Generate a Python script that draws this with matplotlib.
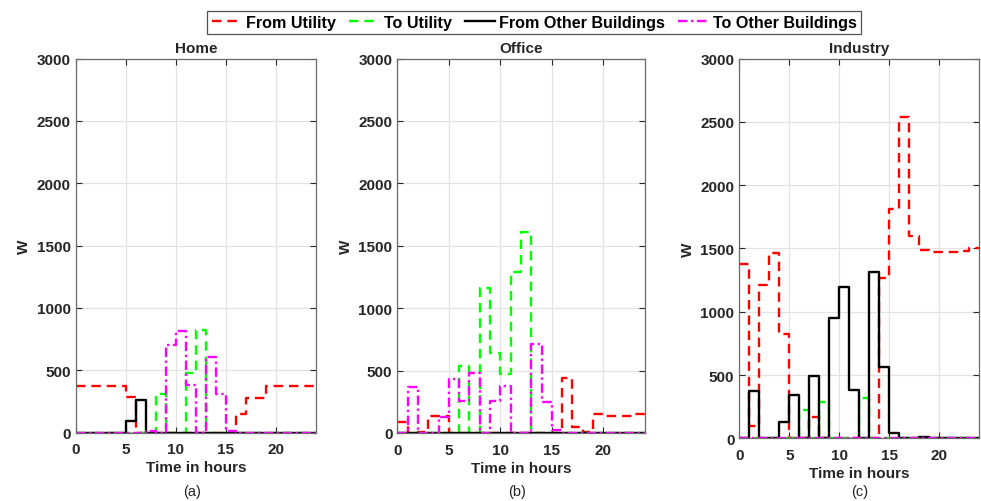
import numpy as np
import matplotlib.pyplot as plt
from matplotlib.lines import Line2D

plt.rcParams['font.family'] = ['Liberation Sans', 'DejaVu Sans']
plt.rcParams['font.size'] = 10

hours = np.arange(25)

############################# DATA (W per hour) #############################
home_from_util = [375, 375, 375, 375, 375, 285, 0, 0, 0, 0, 0, 0,
                  0, 0, 0, 0, 150, 280, 280, 375, 375, 375, 375, 375]
home_to_util = [0, 0, 0, 0, 0, 0, 0, 0, 310, 0, 0, 480,
                820, 0, 0, 0, 0, 0, 0, 0, 0, 0, 0, 0]
home_from_bld = [0, 0, 0, 0, 0, 90, 260, 0, 0, 0, 0, 0,
                 0, 0, 0, 0, 0, 0, 0, 0, 0, 0, 0, 0]
home_to_bld = [0, 0, 0, 0, 0, 0, 0, 15, 0, 700, 815, 385,
               0, 605, 310, 15, 0, 0, 0, 0, 0, 0, 0, 0]

office_from_util = [90, 0, 5, 135, 135, 0, 0, 0, 0, 0, 0, 0,
                    0, 0, 0, 0, 440, 50, 10, 150, 140, 140, 140, 155]
office_to_util = [0, 0, 0, 0, 0, 0, 540, 0, 1160, 640, 470, 1290,
                  1610, 0, 0, 0, 0, 0, 0, 0, 0, 0, 0, 0]
office_from_bld = [0] * 24
office_to_bld = [0, 370, 0, 0, 130, 430, 255, 480, 0, 255, 380, 0,
                 0, 710, 250, 25, 0, 0, 0, 0, 0, 0, 0, 0]

ind_from_util = [1380, 100, 1210, 1460, 820, 0, 0, 165, 0, 0, 0, 0,
                 0, 0, 1265, 1810, 2540, 1600, 1490, 1470, 1470, 1470, 1480, 1500]
ind_to_util = [0, 0, 0, 0, 0, 0, 225, 0, 285, 0, 0, 0,
               320, 0, 0, 0, 0, 0, 0, 0, 0, 0, 0, 0]
ind_from_bld = [0, 370, 0, 0, 130, 340, 0, 490, 0, 950, 1195, 380,
                0, 1310, 560, 40, 0, 0, 8, 0, 0, 0, 0, 0]
ind_to_bld = [0] * 24

titles = ['Home', 'Office', 'Industry']
captions = ['(a)', '(b)', '(c)']
series_names = ['From Utility', 'To Utility', 'From Other Buildings', 'To Other Buildings']

panels = [
    [home_from_util, home_to_util, home_from_bld, home_to_bld],
    [office_from_util, office_to_util, office_from_bld, office_to_bld],
    [ind_from_util, ind_to_util, ind_from_bld, ind_to_bld],
]

styles = [
    dict(color=(1, 0, 0), linestyle=(0, (4, 2.5))),
    dict(color=(0, 1, 0), linestyle=(0, (4, 2.5))),
    dict(color='black', linestyle='-'),
    dict(color=(1, 0, 1), linestyle=(0, (4, 1.5, 1, 1.5))),
]

W, H = 981, 502
# axes boxes in pixels: left, top, right, bottom
boxes = [(75.5, 59.5, 316, 433.5), (397.3, 59.5, 644.5, 434), (739.3, 59.5, 979.3, 439.3)]

fig = plt.figure(figsize=(W / 100, H / 100), dpi=100)

for i, (box, data) in enumerate(zip(boxes, panels)):
    l, t, r, b = box
    ax = fig.add_axes([l / W, 1 - b / H, (r - l) / W, (b - t) / H])
    for vals, st in zip(data, styles):
        y = np.append(vals, vals[-1])
        ax.step(hours, y, where='post', lw=1.7, **st)
    ax.set_xlim(0, 24)
    ax.set_ylim(0, 3000)
    ax.set_xticks([0, 5, 10, 15, 20])
    ax.set_yticks(np.arange(0, 3001, 500))
    ax.grid(True, color='#e3e3e3', lw=0.9)
    ax.set_axisbelow(True)
    ax.tick_params(direction='in', top=True, right=True, length=4,
                   width=0.8, color='#262626', labelcolor='#262626')
    ax.tick_params(axis='x', pad=7)
    for lab in ax.get_xticklabels() + ax.get_yticklabels():
        lab.set_fontweight('bold')
        lab.set_fontsize(11)
    for sp in ax.spines.values():
        sp.set_color('#6a6a6a')
        sp.set_linewidth(0.9)
    ax.set_title(titles[i], fontweight='bold', fontsize=11, pad=5, color='#262626')
    ax.set_xlabel('Time in hours', fontweight='bold', fontsize=11, color='#262626', labelpad=3)
    ax.set_ylabel('W', fontweight='bold', fontsize=11, color='#262626', labelpad=4)
    cx = (l + r) / 2 - 4 if i < 2 else (l + r) / 2
    fig.text(cx / W, 1 - 492 / H, captions[i], ha='center', va='center', fontsize=10.5, color='#262626')

handles = [Line2D([], [], lw=1.7, **st) for st in styles]
leg = fig.legend(handles, series_names, ncol=4, loc='center',
                 bbox_to_anchor=(534 / W, 1 - 23.5 / H), frameon=True, fancybox=False,
                 handlelength=1.9, handletextpad=0.25, columnspacing=0.8,
                 borderpad=0.25, borderaxespad=0, prop={'weight': 'bold', 'size': 11.6})
leg.get_frame().set_edgecolor('#262626')
leg.get_frame().set_linewidth(0.9)

fig.savefig('out.png', dpi=100)
